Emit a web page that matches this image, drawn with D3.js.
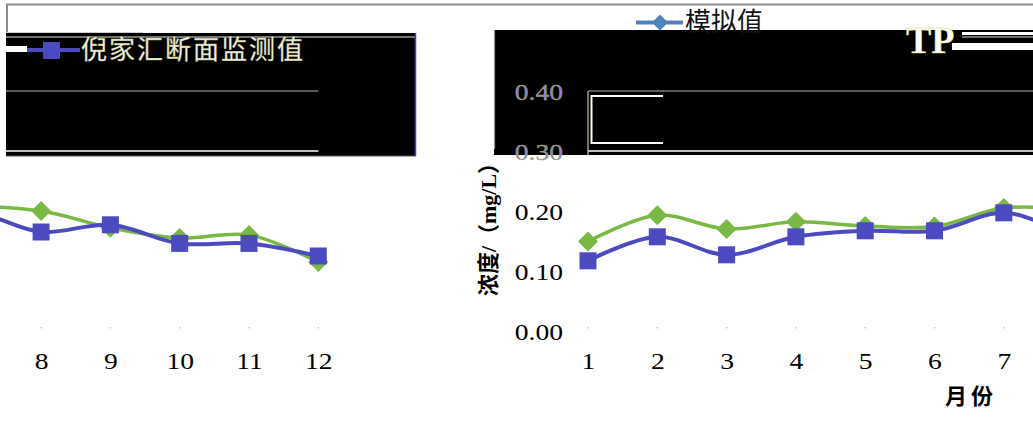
<!DOCTYPE html>
<html><head><meta charset="utf-8">
<script src="https://cdn.jsdelivr.net/npm/d3@7"></script>
<style>body{margin:0;background:#fff}svg{display:block}</style>
</head><body>
<svg id="c" width="1033" height="421"></svg>
<script>
// ---- data ----
const months = [1,2,3,4,5,6,7,8,9,10,11,12];
const measured  = [0.117,0.157,0.127,0.157,0.167,0.167,0.197,0.165,0.177,0.146,0.146,0.125];
const simulated = [0.149,0.193,0.170,0.182,0.175,0.174,0.205,0.200,0.172,0.155,0.160,0.115];
const yTickLow  = [0, 0.1, 0.2];
const yTickHigh = [0.3, 0.4];
const seriesNames = ["倪家汇断面监测值", "模拟值"];
const chartTitle = "TP";
const xTitle = "月份";
const yTitle = "浓度/（mg/L）";

// ---- setup ----
const W = 1033, H = 421, WRAP = 1032;
const svg = d3.select("#c");
const x = d3.scaleLinear().domain([1, 12]).range([588, 588 + 11 * 69.3]);
const y = d3.scaleLinear().domain([0, 0.4]).range([331, 91]);
const serif = "'Liberation Serif','Times New Roman',serif";
const mixed = "'Liberation Serif','Noto Sans CJK SC',serif";
const cjk = "'Noto Sans CJK SC',sans-serif";
const BLUE = "#4b4bbf", GREEN = "#78b845", LEG = "#4f81bd";

const line = d3.line()
  .x((d, i) => x(months[i]))
  .y(d => y(d))
  .curve(d3.curveCatmullRom.alpha(0.5));

function drawChart(g) {
  // faint tick dots
  g.selectAll(".tk").data(months).join("rect")
    .attr("x", d => x(d) - 0.6).attr("y", 327).attr("width", 1.3).attr("height", 1.5)
    .attr("fill", "#b8b8e0");
  // simulated
  g.append("path").attr("d", line(simulated)).attr("fill", "none")
    .attr("stroke", GREEN).attr("stroke-width", 3.5);
  g.selectAll(".dia").data(simulated).join("path")
    .attr("transform", (d, i) => `translate(${x(months[i])},${y(d)})`)
    .attr("d", "M0,-10L10,0L0,10L-10,0Z").attr("fill", GREEN);
  // measured
  g.append("path").attr("d", line(measured)).attr("fill", "none")
    .attr("stroke", BLUE).attr("stroke-width", 4);
  g.selectAll(".sq").data(measured).join("rect")
    .attr("x", (d, i) => x(months[i]) - 8.5).attr("y", d => y(d) - 8.5)
    .attr("width", 17).attr("height", 17).attr("fill", BLUE);

  // x labels
  const xa = g.append("g").attr("transform", "translate(0,361)")
    .call(d3.axisBottom(x).tickValues(months).tickFormat(d3.format("d")).tickSize(0));
  xa.select(".domain").remove();
  xa.selectAll("text").attr("y", 0).attr("dy", "0.35em")
    .attr("transform", "scale(1.2,1)")
    .attr("font-family", serif).attr("font-size", 23).attr("fill", "#000");

  // y labels (visible part)
  const ya = g.append("g").attr("transform", "translate(563,0)")
    .call(d3.axisLeft(y).tickValues(yTickLow).tickFormat(d3.format(".2f")).tickSize(0).tickPadding(0));
  ya.select(".domain").remove();
  ya.selectAll("text").attr("dy", "0.35em").attr("transform", "scale(1.2,1)")
    .attr("font-family", serif).attr("font-size", 23).attr("fill", "#000");

  // axis titles
  g.append("text").attr("transform", "translate(496,224) rotate(-90)")
    .attr("text-anchor", "middle").attr("font-family", mixed).attr("font-weight", "bold")
    .attr("font-size", 22).text(yTitle);
  g.append("text").attr("x", 971).attr("y", 404).attr("text-anchor", "middle")
    .attr("font-family", cjk).attr("font-weight", "bold").attr("font-size", 22)
    .attr("letter-spacing", 4).text(xTitle);
}

const gA = svg.append("g");
drawChart(gA);
const gB = svg.append("g").attr("transform", `translate(${-WRAP},0)`);
drawChart(gB);

// ---- glitch overlays ----
const ov = svg.append("g");
// top frame
ov.append("line").attr("x1", 6).attr("x2", W).attr("y1", 4.5).attr("y2", 4.5)
  .attr("stroke", "#8c8c8c").attr("stroke-width", 2);
ov.append("line").attr("x1", 7).attr("x2", 7).attr("y1", 4).attr("y2", 32)
  .attr("stroke", "#8c8c8c").attr("stroke-width", 2);
ov.append("line").attr("x1", 6).attr("x2", 143).attr("y1", 32.5).attr("y2", 32.5)
  .attr("stroke", "#cfcfcf").attr("stroke-width", 1);

// left black block
ov.append("rect").attr("x", 6).attr("y", 33).attr("width", 410).attr("height", 123).attr("fill", "#000");
ov.append("line").attr("x1", 6).attr("x2", 416).attr("y1", 37).attr("y2", 37)
  .attr("stroke", "#9a9a9a").attr("stroke-width", 1.5);
ov.append("line").attr("x1", 415.5).attr("x2", 415.5).attr("y1", 33).attr("y2", 156)
  .attr("stroke", "#3a3aff").attr("stroke-width", 1.5);
ov.append("line").attr("x1", 6).attr("x2", 416).attr("y1", 156).attr("y2", 156)
  .attr("stroke", "#555").attr("stroke-width", 1);

// right black block
ov.append("rect").attr("x", 494).attr("y", 30).attr("width", W - 494).attr("height", 125).attr("fill", "#000");
ov.append("line").attr("x1", 494.5).attr("x2", 494.5).attr("y1", 30).attr("y2", 149)
  .attr("stroke", "#9a9a9a").attr("stroke-width", 1.2);

// clip regions for gridlines over black
const defs = svg.append("defs");
const cp = defs.append("clipPath").attr("id", "blk");
cp.append("rect").attr("x", 6).attr("y", 33).attr("width", 410).attr("height", 123);
cp.append("rect").attr("x", 494).attr("y", 30).attr("width", W - 494).attr("height", 125);

function drawGrid(g) {
  g.selectAll(".gl").data(yTickHigh).join("line")
    .attr("x1", x(1)).attr("x2", x(12))
    .attr("y1", d => y(d)).attr("y2", d => y(d))
    .attr("stroke", d => d === 0.4 ? "#7a7a7a" : "#ffffff").attr("stroke-width", 1.6);
  g.append("line").attr("x1", x(1)).attr("x2", x(1)).attr("y1", y(0.4)).attr("y2", 156)
    .attr("stroke", "#c8c8a8").attr("stroke-width", 1.2);
}
const gridWrap = svg.append("g").attr("clip-path", "url(#blk)");
drawGrid(gridWrap.append("g"));
drawGrid(gridWrap.append("g").attr("transform", `translate(${-WRAP},0)`));

// white bracket artifact
ov.append("path").attr("d", "M663,96H591.5V143H663")
  .attr("fill", "none").attr("stroke", "#fff").attr("stroke-width", 2);

// high y tick labels drawn in the glitch colours
const yh = svg.append("g").attr("transform", "translate(563,0)")
  .call(d3.axisLeft(y).tickValues(yTickHigh).tickFormat(d3.format(".2f")).tickSize(0).tickPadding(0));
yh.select(".domain").remove();
yh.selectAll("text").attr("dy", "0.35em").attr("transform", "scale(1.2,1)")
  .attr("font-family", serif).attr("font-size", 23)
  .attr("fill", "#8484d0").attr("stroke", "#c4bc30").attr("stroke-width", 0.3);

// TP title + lines
svg.append("text").attr("x", 906).attr("y", 53).attr("font-family", serif)
  .attr("font-weight", "bold").attr("font-size", 38).attr("fill", "#fff")
  .attr("stroke", "#d8d860").attr("stroke-width", 0.4).text(chartTitle);
ov.append("line").attr("x1", 962).attr("x2", W).attr("y1", 33.5).attr("y2", 33.5)
  .attr("stroke", "#fff").attr("stroke-width", 3);
ov.append("line").attr("x1", 962).attr("x2", W).attr("y1", 37).attr("y2", 37)
  .attr("stroke", "#9a9a9a").attr("stroke-width", 1.5);
ov.append("rect").attr("x", 952).attr("y", 43).attr("width", W - 952).attr("height", 7).attr("fill", "#fff");

// left legend (measured)
ov.append("rect").attr("x", 6).attr("y", 46).attr("width", 21).attr("height", 6).attr("fill", "#fff");
ov.append("line").attr("x1", 27).attr("x2", 80).attr("y1", 50).attr("y2", 50)
  .attr("stroke", BLUE).attr("stroke-width", 4);
ov.append("rect").attr("x", 43).attr("y", 42).attr("width", 17).attr("height", 17).attr("fill", BLUE);
ov.append("text").attr("x", 81).attr("y", 59).attr("font-family", cjk).attr("font-size", 26)
  .attr("letter-spacing", 2).attr("fill", "#f2f2f2").attr("stroke", "#b8b850").attr("stroke-width", 0.3)
  .text(seriesNames[0]);

// top legend (simulated)
ov.append("line").attr("x1", 636).attr("x2", 683).attr("y1", 22.5).attr("y2", 22.5)
  .attr("stroke", LEG).attr("stroke-width", 4);
ov.append("path").attr("transform", "translate(660,22.5)").attr("d", "M0,-8L8,0L0,8L-8,0Z").attr("fill", LEG);
ov.append("text").attr("x", 685).attr("y", 31).attr("font-family", cjk).attr("font-size", 26)
  .attr("fill", "#111").text(seriesNames[1]);
</script>
</body></html>
